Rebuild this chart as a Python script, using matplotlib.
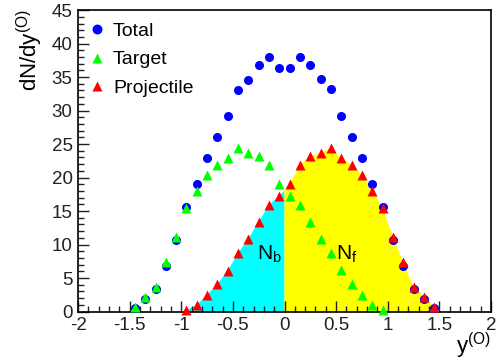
import numpy as np
import matplotlib
matplotlib.use("Agg")
import matplotlib.pyplot as plt
from matplotlib.ticker import MultipleLocator

plt.rcParams['font.family'] = ['Liberation Sans', 'DejaVu Sans']

# ---- data ----
x_total = [-1.45, -1.35, -1.25, -1.15, -1.05, -0.95, -0.85, -0.75, -0.65, -0.55,
           -0.45, -0.35, -0.25, -0.15, -0.05, 0.05, 0.15, 0.25, 0.35, 0.45,
           0.55, 0.65, 0.75, 0.85, 0.95, 1.05, 1.15, 1.25, 1.35, 1.45]
y_total = [0.6, 1.9, 3.3, 6.8, 10.7, 15.6, 19.1, 22.9, 26.1, 29.2,
           33.1, 34.6, 36.8, 38.0, 36.3, 36.3, 38.0, 36.8, 34.7, 33.2,
           29.2, 26.1, 22.9, 19.1, 15.6, 10.7, 6.8, 3.3, 1.9, 0.6]

x_target = [-1.45, -1.35, -1.25, -1.15, -1.05, -0.95, -0.85, -0.75, -0.65, -0.55,
            -0.45, -0.35, -0.25, -0.15, -0.05, 0.05, 0.15, 0.25, 0.35, 0.45,
            0.55, 0.65, 0.75, 0.85, 0.95]
y_target = [0.7, 2.2, 3.7, 7.4, 11.2, 15.5, 18.0, 20.4, 21.9, 22.9,
            24.4, 23.6, 23.2, 21.9, 19.0, 17.2, 15.9, 13.4, 10.9, 8.7,
            6.2, 4.1, 2.4, 1.0, 0.2]

x_proj = [-0.95, -0.85, -0.75, -0.65, -0.55, -0.45, -0.35, -0.25, -0.15, -0.05,
          0.05, 0.15, 0.25, 0.35, 0.45, 0.55, 0.65, 0.75, 0.85, 0.95,
          1.05, 1.15, 1.25, 1.35, 1.45]
y_proj = [0.2, 1.0, 2.5, 4.1, 6.1, 8.7, 10.9, 13.4, 15.9, 17.2,
          19.0, 21.9, 23.2, 23.6, 24.4, 22.9, 21.9, 20.4, 18.0, 15.5,
          11.2, 7.4, 3.7, 2.2, 0.7]

series_labels = ["Total", "Target", "Projectile"]
xticks = [-2, -1.5, -1, -0.5, 0, 0.5, 1, 1.5, 2]
xtick_labels = ["-2", "-1.5", "-1", "-0.5", "0", "0.5", "1", "1.5", "2"]
yticks = [0, 5, 10, 15, 20, 25, 30, 35, 40, 45]
ytick_labels = ["0", "5", "10", "15", "20", "25", "30", "35", "40", "45"]
split = 0.0

# ---- figure ----
fig = plt.figure(figsize=(5.04, 3.61), dpi=100)
ax = fig.add_axes([0.155, 0.137, 0.819, 0.835])

xp = np.array(x_proj)
yp = np.array(y_proj)
y_at_split = np.interp(split, xp, yp)

# backward (cyan) area
mb = xp < split
fx_b = np.concatenate([[xp[mb][0]], xp[mb], [split, split]])
fy_b = np.concatenate([[0.0], yp[mb], [y_at_split, 0.0]])
ax.fill(fx_b, fy_b, color=(0, 1, 1), lw=0, zorder=1)
# forward (yellow) area
mf = xp > split
fx_f = np.concatenate([[split, split], xp[mf], [xp[mf][-1]]])
fy_f = np.concatenate([[0.0, y_at_split], yp[mf], [0.0]])
ax.fill(fx_f, fy_f, color=(1, 1, 0), lw=0, zorder=1)

ax.plot(x_total, y_total, 'o', color=(0, 0, 1), ms=6.5, mec='none',
        label=series_labels[0], zorder=3, clip_on=False)
ax.plot(x_target, y_target, '^', color=(0, 1, 0), ms=6.5, mec='none',
        label=series_labels[1], zorder=4, clip_on=False)
ax.plot(x_proj, y_proj, '^', color=(1, 0, 0), ms=6.5, mec='none',
        label=series_labels[2], zorder=5, clip_on=False)

ax.text(-0.15, 8.5, r"N$_\mathregular{b}$", fontsize=15, ha='center', va='center', zorder=6)
ax.text(0.6, 8.5, r"N$_\mathregular{f}$", fontsize=15, ha='center', va='center', zorder=6)

ax.set_xlim(-2, 2)
ax.set_ylim(0, 45)
ax.set_xticks(xticks)
ax.set_xticklabels(xtick_labels)
ax.set_yticks(yticks)
ax.set_yticklabels(ytick_labels)
ax.xaxis.set_minor_locator(MultipleLocator(0.1))
ax.yaxis.set_minor_locator(MultipleLocator(1))
ax.tick_params(which='both', direction='in', top=False, right=False,
               labelsize=13.5, colors='#222222', width=1.0)
ax.tick_params(which='major', length=8, pad=4)
ax.tick_params(which='minor', length=4)
for s in ax.spines.values():
    s.set_linewidth(1.2)

fig.text(0.974, 0.0, r"y$^{\mathregular{(O)}}$", fontsize=16, ha='right', va='bottom')
fig.text(0.06, 0.975, r"dN/dy$^{\mathregular{(O)}}$", fontsize=16, ha='center', va='top',
         rotation=90)

leg = ax.legend(loc='upper left', bbox_to_anchor=(0.0, 0.973), frameon=False,
                fontsize=14, handlelength=1.5, handletextpad=0.1,
                labelspacing=0.57, borderaxespad=0.0, borderpad=0.2,
                markerscale=1.1)

fig.savefig("out.png", dpi=100)
